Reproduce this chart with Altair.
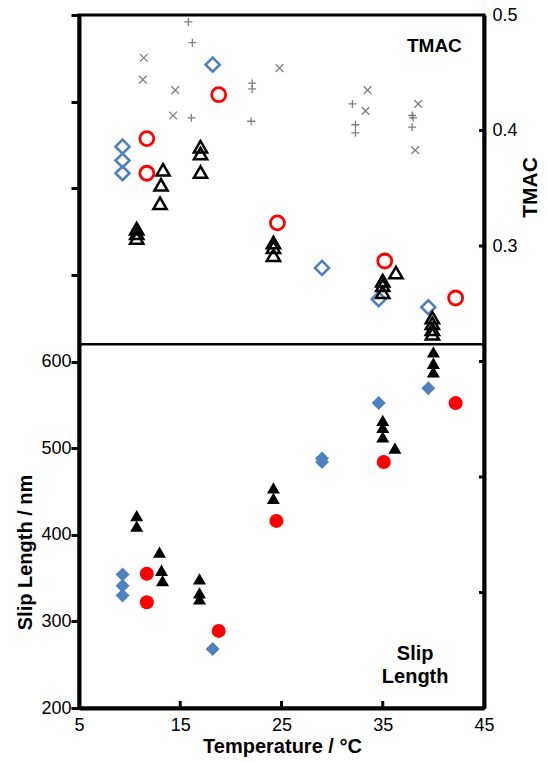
import altair as alt
import pandas as pd

# ---------------- data ----------------
# Slip length (nm), filled markers (lower region)
sl_diamond_T = [9.3, 9.3, 9.3, 18.2, 29.0, 29.0, 34.6, 39.5]
sl_diamond_L = [354, 341, 330, 268, 488, 484, 552, 569]
sl_circle_T = [11.7, 11.7, 18.8, 24.5, 35.1, 42.2]
sl_circle_L = [355, 322, 289, 416, 484, 552]
sl_tri_T = [10.7, 10.7, 12.95, 13.15, 13.25, 16.9, 16.9, 16.9, 24.2, 24.2,
            35.0, 35.0, 35.0, 36.2, 40.0, 40.0, 40.0]
sl_tri_L = [422, 410, 380, 359, 347, 349, 333, 326, 454, 442,
            532, 524, 513, 500, 611, 598, 588]

# TMAC, open markers (upper region)
tm_diamond_T = [9.3, 9.3, 9.3, 18.2, 29.0, 34.6, 39.5]
tm_diamond_V = [0.386, 0.374, 0.363, 0.457, 0.281, 0.254, 0.247]
tm_circle_T = [11.7, 11.7, 18.8, 24.6, 35.2, 42.2]
tm_circle_V = [0.393, 0.363, 0.431, 0.320, 0.287, 0.255]
tm_tri_T = [10.7, 10.7, 10.7, 13.3, 13.1, 13.0, 17.0, 17.0, 17.0, 24.2, 24.2, 24.2,
            35.0, 35.0, 35.0, 36.3, 39.9, 39.9, 39.9, 39.9]
tm_tri_V = [0.315, 0.311, 0.307, 0.366, 0.353, 0.337, 0.386, 0.380, 0.364, 0.303, 0.299, 0.292,
            0.270, 0.266, 0.260, 0.277, 0.238, 0.233, 0.228, 0.224]
plus_T = [15.8, 16.2, 16.1, 22.1, 22.1, 22.0, 32.0, 32.3, 32.3, 37.9, 38.0, 37.9]
plus_V = [0.494, 0.476, 0.411, 0.441, 0.436, 0.408, 0.423, 0.405, 0.398, 0.413, 0.411, 0.403]
cross_T = [11.4, 11.3, 14.5, 14.3, 24.8, 33.5, 33.3, 38.5, 38.2]
cross_V = [0.463, 0.444, 0.435, 0.413, 0.454, 0.435, 0.417, 0.423, 0.383]

x_ticks = [5, 15, 25, 35, 45]
slip_ticks = [200, 300, 400, 500, 600, 700, 800, 900, 1000]
tmac_ticks = [0.0, 0.1, 0.2, 0.3, 0.4, 0.5]
separator_slip = [620]

W, H = 405, 693
FONT = "Liberation Sans"
BLUE = "#4F81BD"
RED = "#FF0000"
GREY = "#7f7f7f"
PLUS = "M-1,0L1,0M0,-1L0,1"
CROSS = "M-1,-1L1,1M-1,1L1,-1"

def xenc():
    return alt.X("T:Q",
                 scale=alt.Scale(domain=[5, 45], nice=False, zero=False),
                 axis=alt.Axis(values=x_ticks, ticks=False, labelFlush=False, labelOverlap=False,
                               labelPadding=8, title="Temperature / °C",
                               titleX=203, titleY=44, titleBaseline="alphabetic",
                               titleAlign="center"))

def yslip():
    return alt.Y("v:Q",
                 scale=alt.Scale(domain=[200, 1000], nice=False, zero=False),
                 axis=alt.Axis(values=slip_ticks, tickSize=8, labelPadding=0,
                               labelExpr="datum.value <= 600 ? datum.label : ''",
                               labelOverlap=False, labelFlush=False,
                               title="Slip Length / nm", titleAngle=270,
                               titleX=-48, titleY=537, titleAlign="center",
                               titleBaseline="alphabetic"))

def ytmac():
    return alt.Y("v:Q",
                 scale=alt.Scale(domain=[-0.1, 0.5], nice=False, zero=False),
                 axis=alt.Axis(orient="right", values=tmac_ticks, ticks=False, labelPadding=8,
                               labelExpr="datum.value >= 0.29 ? format(datum.value, '.1f') : ''",
                               labelOverlap=False, labelFlush=False,
                               title="TMAC", titleAngle=270, titleFontSize=21,
                               titleX=52, titleY=172, titleAlign="center",
                               titleBaseline="alphabetic"))

def df(t, v):
    return pd.DataFrame({"T": t, "v": v})

# ---- slip length group ----
sl_d = alt.Chart(df(sl_diamond_T, sl_diamond_L)).mark_point(
    shape="diamond", filled=True, color=BLUE, size=196, opacity=1).encode(x=xenc(), y=yslip())
sl_c = alt.Chart(df(sl_circle_T, sl_circle_L)).mark_point(
    shape="circle", filled=True, color=RED, size=196, opacity=1).encode(x=xenc(), y=yslip())
sl_t = alt.Chart(df(sl_tri_T, sl_tri_L)).mark_point(
    shape="triangle-up", filled=True, color="black", size=170, opacity=1).encode(x=xenc(), y=yslip())
sep = alt.Chart(pd.DataFrame({"v": separator_slip})).mark_rule(
    color="black", strokeWidth=2.5).encode(y=yslip())
xt = alt.Chart(pd.DataFrame({"T": x_ticks[1:-1]})).mark_rule(
    color="black", strokeWidth=3).encode(x=xenc(), y=alt.value(H), y2=alt.value(H - 7))
slip_lbl = alt.Chart(pd.DataFrame({"T": [38.2], "v": [262], "txt": ["Slip\nLength"]})).mark_text(
    font=FONT, fontSize=20, fontWeight="bold", lineBreak="\n", lineHeight=23,
    align="center", baseline="middle", color="black").encode(x=xenc(), y=yslip(), text="txt:N")

left = alt.layer(sl_d, sl_c, sl_t, sep, xt, slip_lbl)

# ---- TMAC group ----
gp = alt.Chart(df(plus_T, plus_V)).mark_point(
    shape=PLUS, filled=False, color=GREY, size=64, strokeWidth=1.3, opacity=1).encode(x=xenc(), y=ytmac())
gx = alt.Chart(df(cross_T, cross_V)).mark_point(
    shape=CROSS, filled=False, color=GREY, size=60, strokeWidth=1.3, opacity=1).encode(x=xenc(), y=ytmac())
tm_d = alt.Chart(df(tm_diamond_T, tm_diamond_V)).mark_point(
    shape="diamond", filled=False, color=BLUE, size=196, strokeWidth=2.6, opacity=1).encode(x=xenc(), y=ytmac())
tm_c = alt.Chart(df(tm_circle_T, tm_circle_V)).mark_point(
    shape="circle", filled=False, color=RED, size=196, strokeWidth=2.8, opacity=1).encode(x=xenc(), y=ytmac())
tm_t = alt.Chart(df(tm_tri_T, tm_tri_V)).mark_point(
    shape="triangle-up", filled=False, color="black", size=175, strokeWidth=2.5, opacity=1).encode(x=xenc(), y=ytmac())
rt = alt.Chart(pd.DataFrame({"v": tmac_ticks[:-1]})).mark_rule(
    color="black", strokeWidth=3).encode(y=ytmac(), x=alt.value(W - 5), x2=alt.value(W))
tmac_lbl = alt.Chart(pd.DataFrame({"T": [40.1], "v": [0.473], "txt": ["TMAC"]})).mark_text(
    font=FONT, fontSize=19, fontWeight="bold", align="center", baseline="middle",
    color="black").encode(x=xenc(), y=ytmac(), text="txt:N")

right = alt.layer(gp, gx, tm_d, tm_c, tm_t, rt, tmac_lbl)

chart = alt.layer(left, right).resolve_scale(y="independent").properties(
    width=W, height=H,
    autosize=alt.AutoSizeParams(type="none"),
    padding={"left": 71, "top": 7, "right": 56, "bottom": 49},
).configure_view(
    stroke="black", strokeWidth=3
).configure_axis(
    grid=False, domainColor="black", domainWidth=4, tickColor="black", tickWidth=3,
    labelFont=FONT, labelFontSize=18, labelColor="black",
    titleFont=FONT, titleFontSize=20, titleFontWeight="bold", titleColor="black",
)

chart.save("out.html", embed_options={"renderer": "svg", "actions": False})
